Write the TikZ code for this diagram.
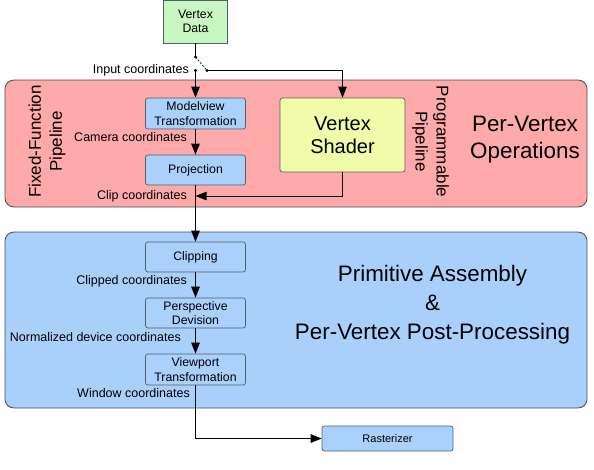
\documentclass[tikz,border=0pt]{standalone}
\usepackage{fontspec}
\setmainfont{Liberation Sans}
\usetikzlibrary{arrows.meta}
\definecolor{regred}{HTML}{FFAAAA}
\definecolor{regblue}{HTML}{A9D0FB}
\definecolor{boxblue}{HTML}{A9D1FB}
\definecolor{boxgreen}{HTML}{C8F7C2}
\definecolor{boxyellow}{HTML}{F0FCAA}
\definecolor{edge}{HTML}{4F5F70}
\begin{document}
\begin{tikzpicture}[x=1pt,y=-1pt,
  region/.style={draw=black!70, fill=#1, rounded corners=9pt, line width=0.8pt, inner sep=0pt},
  stagebox/.style={draw=edge, fill=boxblue, rounded corners=2.5pt, line width=0.7pt,
    minimum width=100pt, minimum height=30pt, align=center, inner sep=0pt,
    font=\fontsize{12.3}{14.5}\selectfont},
  conn/.style={line width=1pt, -{Triangle[length=11pt,width=8.5pt]}},
  plain/.style={line width=1pt},
  lbl/.style={anchor=east, inner sep=0pt, font=\fontsize{12.5}{14}\selectfont},
  big/.style={align=center, inner sep=0pt, font=\fontsize{22.4}{28}\selectfont},
  side/.style={align=center, inner sep=0pt, font=\fontsize{17}{21}\selectfont}
]
\useasboundingbox (0,0) rectangle (594,469);

% regions
\node[region=regred, minimum width=582pt, minimum height=127pt] (rred) at (296,143.5) {};
\node[region=regblue, minimum width=582pt, minimum height=176pt] (rblue) at (296,320) {};

% boxes
\node[stagebox, fill=boxgreen, minimum width=64pt, minimum height=43pt, rounded corners=0pt] (vd) at (195.5,21.5) {Vertex\\Data};
\node[stagebox, minimum height=31pt] (mv) at (195.5,113.5) {Modelview\\Transformation};
\node[stagebox] (pr) at (195.5,170) {Projection};
\node[stagebox, fill=boxyellow, minimum width=125pt, minimum height=74pt, font=\fontsize{20}{23}\selectfont] (vs) at (342.5,135) {Vertex\\Shader};
\node[stagebox] (cl) at (195.5,257) {Clipping};
\node[stagebox] (pd) at (195.5,313) {Perspective\\Devision};
\node[stagebox, minimum height=31pt] (vp) at (195.5,369.5) {Viewport\\Transformation};
\node[stagebox, minimum width=131pt, minimum height=25pt, font=\fontsize{11}{13}\selectfont] (ra) at (387.5,438.5) {Rasterizer};

% region titles
\node[side, rotate=90] (ffp) at (47,141.5) {Fixed-Function\\Pipeline};
\node[side, rotate=-90] (pp) at (430.5,141.5) {Programmable\\Pipeline};
\node[big, font=\fontsize{22.4}{27}\selectfont] (pvo) at (525,140) {Per-Vertex\\Operations};
\node[big, font=\fontsize{22.4}{29}\selectfont] (pa) at (432.5,305) {Primitive Assembly\\\&\\Per-Vertex Post-Processing};

% switch
\coordinate (s1) at (195.5,57);
\coordinate (s2) at (195.5,70.5);
\coordinate (s3) at (207,70.5);
\coordinate (cj) at (195.5,196);

\draw[plain] (vd.south) -- (s1);
\draw[line width=0.7pt, dash pattern=on 2pt off 1.5pt] (s1) -- (s3);
\draw[conn] (s2) -- (mv.north);
\draw[conn] (s3) -| (vs.north);
\fill (s1) circle (1.6pt) (s2) circle (1.6pt) (s3) circle (1.6pt);

\draw[conn] (mv.south) -- (pr.north);
\draw[conn] (pr.south) -- (cl.north);
\draw[conn] (vs.south) |- (cj);
\draw[conn] (cl.south) -- (pd.north);
\draw[conn] (pd.south) -- (vp.north);
\draw[conn] (vp.south) |- (ra.west);

% labels
\node[lbl] (l1) at (189,70) {Input coordinates};
\node[lbl] (l2) at (187,137) {Camera coordinates};
\node[lbl] (l3) at (187,196) {Clip coordinates};
\node[lbl] (l4) at (187,281) {Clipped coordinates};
\node[lbl] (l5) at (181,337) {Normalized device coordinates};
\node[lbl] (l6) at (190,393) {Window coordinates};
\end{tikzpicture}
\end{document}
